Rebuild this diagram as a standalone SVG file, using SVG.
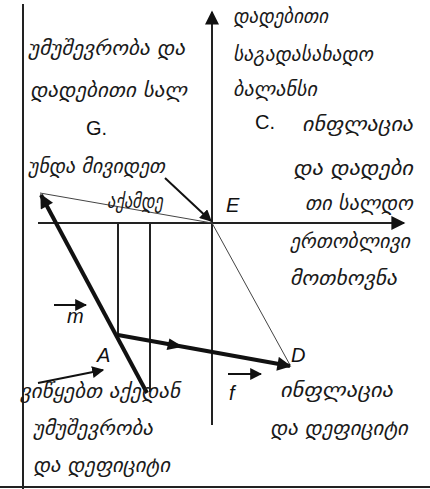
<svg xmlns="http://www.w3.org/2000/svg" width="430" height="489" viewBox="0 0 430 489">
<style>
.ge{font-family:"DejaVu Sans","Noto Sans",sans-serif;font-style:italic;font-size:20px;fill:#1a1a1a}
.lb{font-family:"Liberation Sans",Arial,sans-serif;font-size:20px;fill:#111}
.it{font-style:italic}
.ax{stroke:#222;stroke-width:2;fill:none}
.thick{stroke:#111;stroke-width:4;fill:none}
.thin{stroke:#444;stroke-width:1;fill:none}
</style>
<defs>
<marker id="ah" viewBox="0 0 10 10" refX="9" refY="5" markerWidth="7" markerHeight="7" orient="auto" markerUnits="userSpaceOnUse">
<path d="M0,0 L10,5 L0,10 z" fill="#111"/>
</marker>
<marker id="ahb" viewBox="0 0 10 10" refX="9" refY="5" markerWidth="16" markerHeight="14" orient="auto" markerUnits="userSpaceOnUse">
<path d="M0,0 L10,5 L0,10 z" fill="#111"/>
</marker>
<marker id="ahm" viewBox="0 0 10 10" refX="9" refY="5" markerWidth="12" markerHeight="12" orient="auto" markerUnits="userSpaceOnUse">
<path d="M0,0 L10,5 L0,10 z" fill="#111"/>
</marker>
</defs>
<rect width="430" height="489" fill="#fff"/>
<g id="connectors">
<line class="ax" x1="23" y1="4" x2="23" y2="489"/>
<line class="ax" x1="0" y1="487" x2="430" y2="487"/>
<line class="ax" x1="212" y1="425" x2="212" y2="12" marker-end="url(#ahb)"/>
<line class="ax" x1="38" y1="223" x2="404" y2="223" marker-end="url(#ahb)"/>
<line class="ax" x1="118" y1="223" x2="118" y2="335"/>
<line class="ax" x1="150" y1="223" x2="150" y2="392"/>
<line class="thin" x1="40" y1="193" x2="212" y2="223"/>
<line class="thin" x1="212" y1="223" x2="290" y2="365"/>
<line class="thick" x1="147" y1="393" x2="41" y2="195" marker-end="url(#ahb)"/>
<line class="thick" x1="118" y1="335" x2="290" y2="366" marker-end="url(#ahb)"/>
<path d="M166.6,350 L183,346.7 L169.4,338.5 z" fill="#111"/>
<line stroke="#111" stroke-width="2" x1="165" y1="178" x2="211" y2="221" marker-end="url(#ahm)"/>
<line stroke="#111" stroke-width="2" x1="54" y1="305" x2="86" y2="305" marker-end="url(#ahm)"/>
<line stroke="#111" stroke-width="2" x1="38" y1="383" x2="103" y2="370" marker-end="url(#ahm)"/>
<line stroke="#111" stroke-width="2" x1="228" y1="374" x2="261" y2="374" marker-end="url(#ahm)"/>
</g>
<g id="label-G"><text class="lb" x="86" y="135">G.</text></g>
<g id="label-C"><text class="lb" x="255" y="129">C.</text></g>
<g id="node-E"><text class="lb it" x="226" y="212">E</text></g>
<g id="node-A"><text class="lb it" x="97" y="362">A</text></g>
<g id="node-D"><text class="lb it" x="291" y="362">D</text></g>
<g id="label-m"><text class="lb it" x="67" y="323">m</text></g>
<g id="label-f"><text class="lb it" x="229" y="400">f</text></g>
<g id="text-topleft">
<text class="ge" x="28" y="55" textLength="157" lengthAdjust="spacingAndGlyphs">უმუშევრობა  და</text>
<text class="ge" x="30" y="97" textLength="157" lengthAdjust="spacingAndGlyphs">დადებითი  სალ</text>
<text class="ge" x="28" y="173" textLength="137" lengthAdjust="spacingAndGlyphs">უნდა  მივიდეთ</text>
<text class="ge" x="107" y="208" textLength="56" lengthAdjust="spacingAndGlyphs">აქამდე</text>
</g>
<g id="text-topright">
<text class="ge" x="233" y="23" textLength="95" lengthAdjust="spacingAndGlyphs">დადებითი</text>
<text class="ge" x="233" y="61" textLength="140" lengthAdjust="spacingAndGlyphs">საგადასახადო</text>
<text class="ge" x="233" y="96" textLength="84" lengthAdjust="spacingAndGlyphs">ბალანსი</text>
<text class="ge" x="302" y="131" textLength="111" lengthAdjust="spacingAndGlyphs">ინფლაცია</text>
<text class="ge" x="293" y="175" textLength="120" lengthAdjust="spacingAndGlyphs">და    დადები</text>
<text class="ge" x="305" y="210" textLength="108" lengthAdjust="spacingAndGlyphs">თი  სალდო</text>
<text class="ge" x="290" y="248" textLength="120" lengthAdjust="spacingAndGlyphs">ერთობლივი</text>
<text class="ge" x="290" y="285" textLength="107" lengthAdjust="spacingAndGlyphs">მოთხოვნა</text>
</g>
<g id="text-bottomleft">
<text class="ge" x="20" y="398" textLength="160" lengthAdjust="spacingAndGlyphs">ვიწყებთ  აქედან</text>
<text class="ge" x="33" y="435" textLength="120" lengthAdjust="spacingAndGlyphs">უმუშევრობა</text>
<text class="ge" x="33" y="472" textLength="137" lengthAdjust="spacingAndGlyphs">და  დეფიციტი</text>
</g>
<g id="text-bottomright">
<text class="ge" x="280" y="397" textLength="113" lengthAdjust="spacingAndGlyphs">ინფლაცია</text>
<text class="ge" x="270" y="435" textLength="138" lengthAdjust="spacingAndGlyphs">და  დეფიციტი</text>
</g>
</svg>
